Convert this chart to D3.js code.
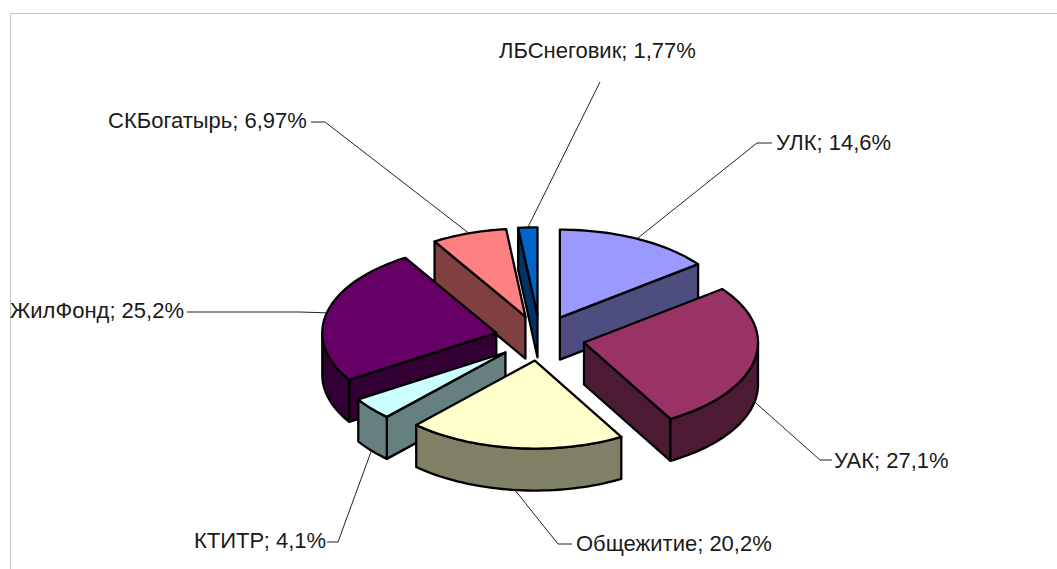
<!DOCTYPE html>
<html>
<head>
<meta charset="utf-8">
<script src="https://cdn.jsdelivr.net/npm/d3@7/dist/d3.min.js"></script>
<style>
html,body{margin:0;padding:0;background:#fff;overflow:hidden}
svg{display:block}
text{font-family:"Liberation Sans",Arial,sans-serif;font-size:22px;fill:#1a1a1a}
</style>
</head>
<body>
<svg id="c" width="1057" height="569"></svg>
<script>
const categories = ["УЛК","УАК","Общежитие","КТИТР","ЖилФонд","СКБогатырь","ЛБСнеговик"];
const values = [14.6,27.1,20.2,4.1,25.2,6.97,1.77];
const valueLabels = ["14,6%","27,1%","20,2%","4,1%","25,2%","6,97%","1,77%"];
const topColors = ["#9999FF","#993366","#FFFFCC","#CCFFFF","#660066","#FF8080","#0066CC"];
const wallColors = ["#4D4D80","#4D1A33","#808066","#668080","#330033","#804040","#003366"];

// layout: label baseline start and elbow of each leader line
const labelX = [776,834,576,194,10,108,499];
const labelY = [150,468,551,548,318,128,58];
const elbowX = [757,820,558,338,300,325,600];
const elbowY = [143,460,544,542,312,122,82];
const stubX  = [772,832,572,327,187,311,600];

const W = 1057, H = 569;
const svg = d3.select("#c");
const cx = 540, cy = 338, rx = 174, ry = 88, depth = 42, explode = 0.258;

// unit pie-plane -> screen
const sx = d3.scaleLinear().domain([-1,1]).range([cx-rx,cx+rx]);
const sy = d3.scaleLinear().domain([-1,1]).range([cy-ry,cy+ry]);

const arcs = d3.pie().sort(null).value(d=>d)(values).map((a,i)=>{
  const mid = (a.startAngle+a.endAngle)/2;
  return {i, a0:a.startAngle, a1:a.endAngle, mid,
          ox:explode*Math.sin(mid), oy:-explode*Math.cos(mid)};
});

function pt(s,ang,r,dz){
  return [sx(s.ox + r*Math.sin(ang)), sy(s.oy - r*Math.cos(ang)) + dz];
}
const line = d3.line();
function angles(a0,a1){
  const n = Math.max(2,Math.ceil((a1-a0)/0.03));
  return d3.range(n+1).map(k=>a0+(a1-a0)*k/n);
}
function topPath(s){
  return line([pt(s,0,0,0),...angles(s.a0,s.a1).map(t=>pt(s,t,1,0))])+"Z";
}
function radialWall(s,ang){
  return line([pt(s,0,0,0),pt(s,ang,1,0),pt(s,ang,1,depth),pt(s,0,0,depth)])+"Z";
}
function outerWall(s,a0,a1){
  const t = angles(a0,a1);
  return line([...t.map(x=>pt(s,x,1,0)),...t.slice().reverse().map(x=>pt(s,x,1,depth))])+"Z";
}

// frame
svg.append("path").attr("d",`M10.5 ${H}V13.5H${W}`).attr("fill","none").attr("stroke","#c4c4c4").attr("stroke-width",1);

// back to front
const order = arcs.slice().sort((a,b)=>a.oy-b.oy);
const g = svg.append("g").attr("stroke","#000").attr("stroke-width",2.3).attr("stroke-linejoin","round");
order.forEach(s=>{
  const wall = wallColors[s.i];
  const add = d => g.append("path").attr("d",d).attr("fill",wall);
  if(Math.sin(s.a0)<0) add(radialWall(s,s.a0));
  if(Math.sin(s.a1)>0) add(radialWall(s,s.a1));
  const f0 = Math.max(s.a0,Math.PI/2), f1 = Math.min(s.a1,3*Math.PI/2);
  if(f1>f0) add(outerWall(s,f0,f1));
  g.append("path").attr("d",topPath(s)).attr("fill",topColors[s.i]);
});

// leaders and labels
arcs.forEach(s=>{
  const front = Math.cos(s.mid)<0;
  const p = pt(s,s.mid,1,front?depth:0);
  const i = s.i;
  const pts = [p,[elbowX[i],elbowY[i]],[stubX[i],elbowY[i]]];
  svg.append("path").attr("d",line(pts)).attr("fill","none").attr("stroke","#222").attr("stroke-width",1);
  svg.append("text").attr("x",labelX[i]).attr("y",labelY[i])
     .text(categories[i]+"; "+valueLabels[i]);
});
</script>
</body>
</html>
